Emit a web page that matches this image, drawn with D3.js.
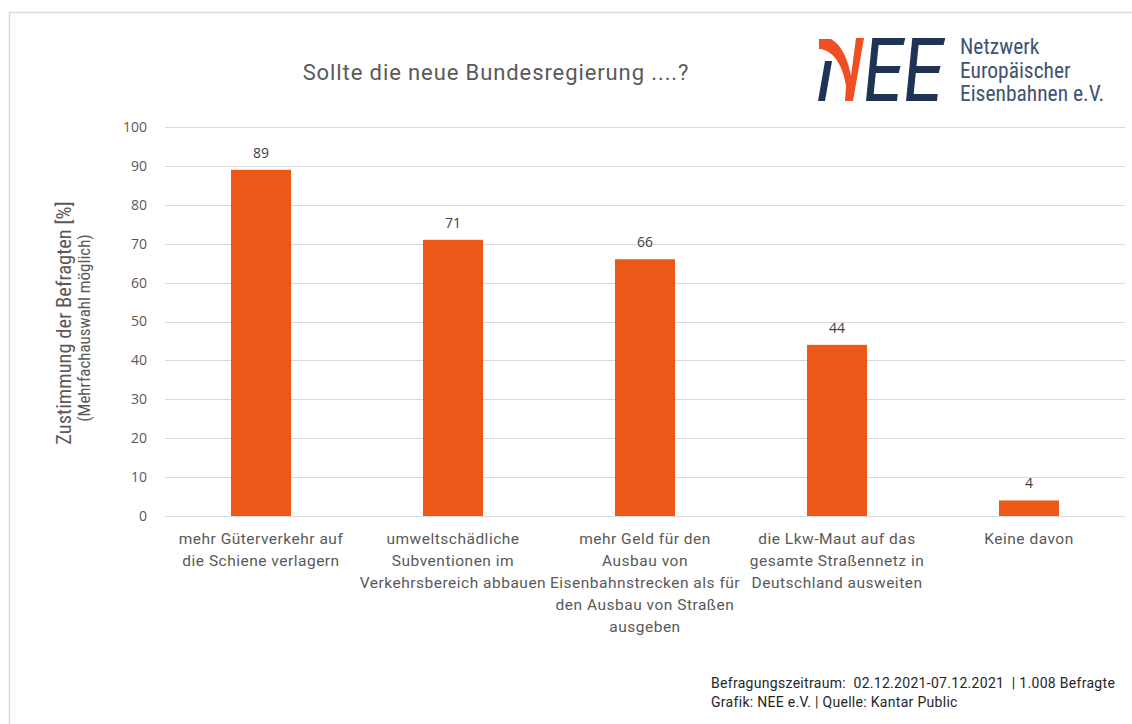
<!DOCTYPE html>
<html>
<head>
<meta charset="utf-8">
<script src="https://cdn.jsdelivr.net/npm/d3@7"></script>
<style>
  html, body { margin: 0; padding: 0; background: #ffffff; }
  svg { display: block; }
</style>
</head>
<body>
<svg id="chart" width="1132" height="724"></svg>
<script>
// ---- data ----
const categories = [
  "mehr Güterverkehr auf\ndie Schiene verlagern",
  "umweltschädliche\nSubventionen im\nVerkehrsbereich abbauen",
  "mehr Geld für den\nAusbau von\nEisenbahnstrecken als für\nden Ausbau von Straßen\nausgeben",
  "die Lkw-Maut auf das\ngesamte Straßennetz in\nDeutschland ausweiten",
  "Keine davon"
];
const values = [89, 71, 66, 44, 4];
const yTicks = [0, 10, 20, 30, 40, 50, 60, 70, 80, 90, 100];
const titleText = "Sollte die neue Bundesregierung ....?";
const yTitle = "Zustimmung der Befragten [%]";
const ySubTitle = "(Mehrfachauswahl möglich)";
const logoLines = ["Netzwerk", "Europäischer", "Eisenbahnen e.V."];
const footerLines = [
  "Befragungszeitraum:  02.12.2021-07.12.2021  | 1.008 Befragte",
  "Grafik: NEE e.V. | Quelle: Kantar Public"
];

// ---- styles ----
const narrowFont = "'Liberation Sans Narrow', 'Roboto Condensed', 'Roboto', sans-serif";
const textFont = "Roboto, 'Noto Sans', sans-serif";
const numFont = "'Open Sans', 'Noto Sans', sans-serif";
const barColor = "#eb5817";
const gridColor = "#d9d9d9";

const svg = d3.select("#chart");

// frame
svg.append("path")
  .attr("d", "M9.5,724 L9.5,12.5 L1132,12.5")
  .attr("fill", "none").attr("stroke", "#d9d9d9").attr("stroke-width", 1.5);

const x = d3.scaleBand().domain(categories).range([165, 1125]).padding(0);
const y = d3.scaleLinear().domain([0, 100]).range([516, 127]);
const barW = 60;

// gridlines
svg.append("g").selectAll("line").data(yTicks).join("line")
  .attr("x1", 165).attr("x2", 1125)
  .attr("y1", d => Math.round(y(d)) + 0.5).attr("y2", d => Math.round(y(d)) + 0.5)
  .attr("stroke", gridColor).attr("stroke-width", 1);

// y tick labels
const yAxis = d3.axisLeft(y).tickValues(yTicks).tickSize(0).tickPadding(0);
const gy = svg.append("g").attr("transform", "translate(147,0)").call(yAxis);
gy.select(".domain").remove();
gy.selectAll("text")
  .attr("font-family", numFont).attr("font-size", 14).attr("fill", "#595959");

// bars
svg.append("g").selectAll("rect").data(values).join("rect")
  .attr("x", (d, i) => x(categories[i]) + x.bandwidth() / 2 - barW / 2)
  .attr("y", d => y(d))
  .attr("width", barW)
  .attr("height", d => y(0) - y(d))
  .attr("fill", barColor);

// value labels
svg.append("g").selectAll("text").data(values).join("text")
  .attr("x", (d, i) => x(categories[i]) + x.bandwidth() / 2)
  .attr("y", d => y(d) - 12)
  .attr("text-anchor", "middle")
  .attr("font-family", numFont).attr("font-size", 14).attr("fill", "#404040")
  .text(d => d);

// category labels
const catG = svg.append("g").selectAll("text").data(categories).join("text")
  .attr("x", d => x(d) + x.bandwidth() / 2)
  .attr("y", 544)
  .attr("text-anchor", "middle")
  .attr("font-family", textFont).attr("font-size", 15.5)
  .attr("letter-spacing", 0.5).attr("fill", "#595959");
catG.each(function(d) {
  const t = d3.select(this);
  d.split("\n").forEach((line, j) => {
    t.append("tspan").attr("x", x(d) + x.bandwidth() / 2).attr("dy", j === 0 ? 0 : 22).text(line);
  });
});

// title
svg.append("text")
  .attr("x", 496).attr("y", 80)
  .attr("text-anchor", "middle")
  .attr("font-family", textFont).attr("font-size", 22)
  .attr("letter-spacing", 0.9).attr("fill", "#595959")
  .text(titleText);

// y axis title
svg.append("text")
  .attr("transform", "translate(71,323) rotate(-90)")
  .attr("text-anchor", "middle")
  .attr("font-family", narrowFont).attr("font-size", 20.5).attr("fill", "#595959")
  .text(yTitle);
svg.append("text")
  .attr("transform", "translate(90,328) rotate(-90)")
  .attr("text-anchor", "middle")
  .attr("font-family", narrowFont).attr("font-size", 17).attr("fill", "#595959")
  .text(ySubTitle);

// footer
svg.append("g").selectAll("text").data(footerLines).join("text")
  .attr("x", 711).attr("y", (d, i) => 688 + i * 19)
  .attr("font-family", textFont).attr("font-size", 14)
  .attr("letter-spacing", 0.3).attr("fill", "#262626")
  .attr("xml:space", "preserve")
  .text(d => d);

// logo
const logo = svg.append("g");
const navy = "#1f3354", orange = "#f04e23";
// left stem of i
logo.append("path").attr("d", "M825,61 L832,61 L825,101 L818,101 Z").attr("fill", navy);
// orange arc + slanted stem
logo.append("path")
  .attr("d", "M819,39 L831,39 C842,45 848,60 851,76 L856,38 L864,38 L853,101 L845,101 L846,86 C843,66 834,50 819,49 Z")
  .attr("fill", orange);
// E letters
function ePath(ox) {
  const sk = 0.1; // italic slant
  const pts = (xx, yy) => [ox + xx + (101 - yy) * sk, yy];
  const poly = [
    [0,38],[33,38],[32,45],[7,45],[7,66],[31,66],[30,73],[7,73],[7,94],[31,94],[31,101],[0,101]
  ].map(p => pts(p[0], p[1]));
  return "M" + poly.map(p => p.join(",")).join(" L") + " Z";
}
logo.append("path").attr("d", ePath(866)).attr("fill", navy);
logo.append("path").attr("d", ePath(906)).attr("fill", navy);

logo.selectAll("text.lt").data(logoLines).join("text")
  .attr("class", "lt")
  .attr("x", 960).attr("y", (d, i) => 54 + i * 23.5)
  .attr("font-family", narrowFont).attr("font-size", 21.5).attr("fill", "#3f5373")
  .text(d => d);
</script>
</body>
</html>
